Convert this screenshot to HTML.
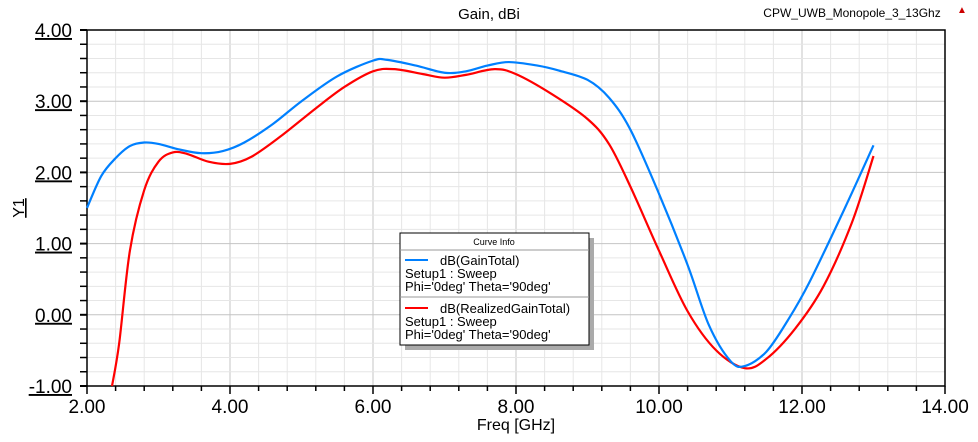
<!DOCTYPE html>
<html><head><meta charset="utf-8"><style>
body{margin:0;background:#fff;width:978px;height:437px;overflow:hidden}
text{font-family:"Liberation Sans",Arial,sans-serif}
</style></head><body>
<svg id="s" width="978" height="437" xmlns="http://www.w3.org/2000/svg">
<g id="grid"></g>
<rect x="87" y="30" width="858" height="356" fill="none" stroke="#000" stroke-width="1.5"/>
<text x="489" y="19" font-size="15" text-anchor="middle">Gain, dBi</text>
<text x="852" y="17" font-size="12" text-anchor="middle">CPW_UWB_Monopole_3_13Ghz</text>
<text x="962" y="13" font-size="10" fill="#c00" text-anchor="middle">▲</text>
<text x="516" y="430" font-size="16" text-anchor="middle">Freq [GHz]</text>
<text transform="translate(24,208) rotate(-90)" font-size="16" text-anchor="middle" text-decoration="underline">Y1</text>
<g id="curves"></g>
<g>
<rect x="405" y="238" width="189" height="112" fill="#aaa"/>
<rect x="400" y="233" width="189" height="112" fill="#fff" stroke="#000"/>
<text x="494" y="245" font-size="9" text-anchor="middle">Curve Info</text>
<line x1="400" y1="250" x2="589" y2="250" stroke="#999"/>
<line x1="405" y1="260" x2="428" y2="260" stroke="#0080ff" stroke-width="2"/>
<text x="440" y="265" font-size="13">dB(GainTotal)</text>
<text x="405" y="278" font-size="13">Setup1 : Sweep</text>
<text x="405" y="291" font-size="13">Phi='0deg' Theta='90deg'</text>
<line x1="400" y1="297" x2="589" y2="297" stroke="#999"/>
<line x1="405" y1="308" x2="428" y2="308" stroke="#f00" stroke-width="2"/>
<text x="440" y="313" font-size="13">dB(RealizedGainTotal)</text>
<text x="405" y="326" font-size="13">Setup1 : Sweep</text>
<text x="405" y="339" font-size="13">Phi='0deg' Theta='90deg'</text>
</g>
</svg>
<script>
const NS="http://www.w3.org/2000/svg";
const X=f=>87+(f-2)*71.5, Y=v=>30+(4-v)*71.2;
const g=document.getElementById('grid');
function el(p,t,a){const e=document.createElementNS(NS,t);for(const k in a)e.setAttribute(k,a[k]);p.appendChild(e);return e;}
for(let i=1;i<30;i++){const x=87+i*858/30;el(g,'line',{x1:x,y1:30,x2:x,y2:386,stroke:i%5?'#e6e6e6':'#c4c4c4'});}
for(let i=1;i<25;i++){const y=30+i*356/25;el(g,'line',{x1:87,y1:y,x2:945,y2:y,stroke:i%5?'#e6e6e6':'#c4c4c4'});}
for(let i=0;i<=25;i++){const y=30+i*356/25;el(g,'line',{x1:80,y1:y,x2:87,y2:y,stroke:'#000','stroke-width':i%5?1.5:2});}
for(let i=0;i<=30;i++){const x=87+i*858/30;el(g,'line',{x1:x,y1:386,x2:x,y2:i%5?391:394,stroke:'#000','stroke-width':1.5});}
for(let i=0;i<=5;i++){const v=4-i;const t=el(g,'text',{x:72,y:Y(v)+7,'font-size':19,'text-anchor':'end','text-decoration':'underline'});t.textContent=v.toFixed(2);}
for(let i=0;i<=6;i++){const f=2+2*i;const t=el(g,'text',{x:X(f),y:413,'font-size':19,'text-anchor':'middle'});t.textContent=f.toFixed(2);}
const blue=[[2,1.5],[2.2,1.95],[2.4,2.2],[2.6,2.37],[2.8,2.42],[3,2.4],[3.3,2.32],[3.6,2.27],[3.9,2.3],[4.2,2.42],[4.6,2.68],[5,3.0],[5.5,3.35],[6,3.57],[6.2,3.58],[6.6,3.5],[7,3.4],[7.3,3.42],[7.6,3.5],[7.9,3.55],[8.3,3.5],[8.6,3.43],[9,3.3],[9.3,3.05],[9.6,2.6],[10,1.7],[10.4,0.7],[10.7,-0.15],[11,-0.65],[11.2,-0.72],[11.5,-0.52],[11.8,-0.08],[12.1,0.45],[12.6,1.5],[13,2.38]];
const red=[[2.35,-1.0],[2.45,-0.4],[2.6,0.9],[2.8,1.75],[3,2.15],[3.2,2.28],[3.4,2.26],[3.7,2.15],[4,2.12],[4.3,2.22],[4.7,2.5],[5.2,2.9],[5.6,3.2],[6,3.42],[6.3,3.45],[6.7,3.38],[7,3.33],[7.3,3.37],[7.7,3.45],[8,3.38],[8.5,3.1],[9,2.75],[9.3,2.4],[9.6,1.8],[10,0.9],[10.4,0.05],[10.8,-0.5],[11.2,-0.75],[11.5,-0.62],[11.9,-0.2],[12.3,0.4],[12.7,1.3],[13,2.23]];
function path(d){const p=d.map(([f,v])=>[X(f),Y(v)]);let s='M'+p[0];for(let i=0;i<p.length-1;i++){const a=p[i-1]||p[i],b=p[i],c=p[i+1],e=p[i+2]||c;s+=` C${b[0]+(c[0]-a[0])/6},${b[1]+(c[1]-a[1])/6} ${c[0]-(e[0]-b[0])/6},${c[1]-(e[1]-b[1])/6} ${c[0]},${c[1]}`;}return s;}
const cv=document.getElementById('curves');
el(cv,'path',{d:path(red),fill:'none',stroke:'#f00','stroke-width':2.2});
el(cv,'path',{d:path(blue),fill:'none',stroke:'#0080ff','stroke-width':2.2});
</script>
</body></html>
